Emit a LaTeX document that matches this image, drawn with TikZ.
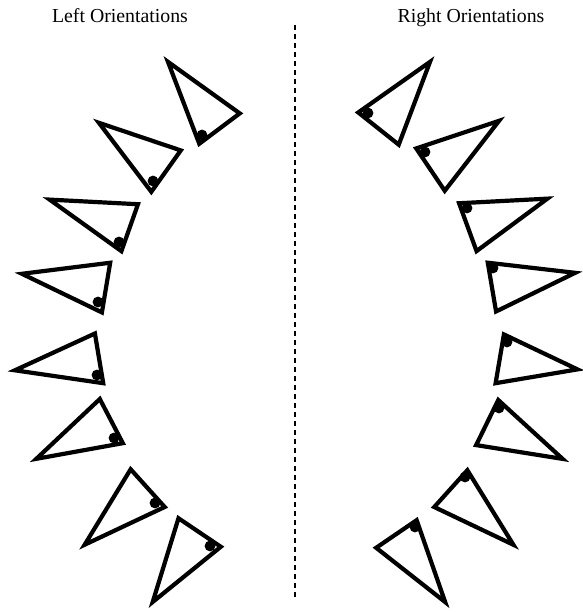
\documentclass[tikz,border=0pt]{standalone}
\usepackage{fontspec}
\setmainfont{Liberation Serif}
\usetikzlibrary{calc}

\begin{document}
\begin{tikzpicture}[x=1pt,y=-1pt,
  tri/.style={draw, line width=4.2pt, line join=miter},
  knob/.style={fill=black},
  label/.style={font=\fontsize{19.8}{24}\selectfont, anchor=base}]
  \useasboundingbox (0,0) rectangle (583,613);
  \node[label] (lefttitle) at (120,22) {Left Orientations};
  \node[label] (righttitle) at (471,22) {Right Orientations};
  \draw[line width=2.3pt, dash pattern=on 5pt off 4pt] (295,25) -- (295,597);
  % left triangles: three corners, then the dot
  \foreach \ax/\ay/\bx/\by/\cx/\cy/\dx/\dy in {
      165/58/243/114/199/147/202/135, 95/120/184/150/152/195/153/181,
      45/198/141/203/123/254/119/242, 17/273/113/261/104/315/98/302,
      10/371/97/331/106/385/97/375, 32/461/101/396/126/444/114/438,
      81/548/131/466/168/507/155/503, 150/606/178/515/224/546/210/546,
  % right triangles
      355/113/433/58/399/148/368/113, 413/148/503/118/444/194/425/152,
      456/202/552/197/475/254/467/208, 485/261/580/272/494/314/493/268,
      502/332/582/370/493/385/507/342, 497/397/567/461/473/446/499/408,
      467/467/517/548/431/507/465/477, 417/517/448/606/373/547/415/527} {
    \coordinate (g) at ({(\ax+\bx+\cx)/3},{(\ay+\by+\cy)/3});
    \draw[tri] ($(g)!0.92!(\ax,\ay)$) -- ($(g)!0.92!(\bx,\by)$) -- ($(g)!0.92!(\cx,\cy)$) -- cycle;
    \fill[knob] (\dx,\dy) circle[radius=5.4pt];
  }
\end{tikzpicture}
\end{document}
